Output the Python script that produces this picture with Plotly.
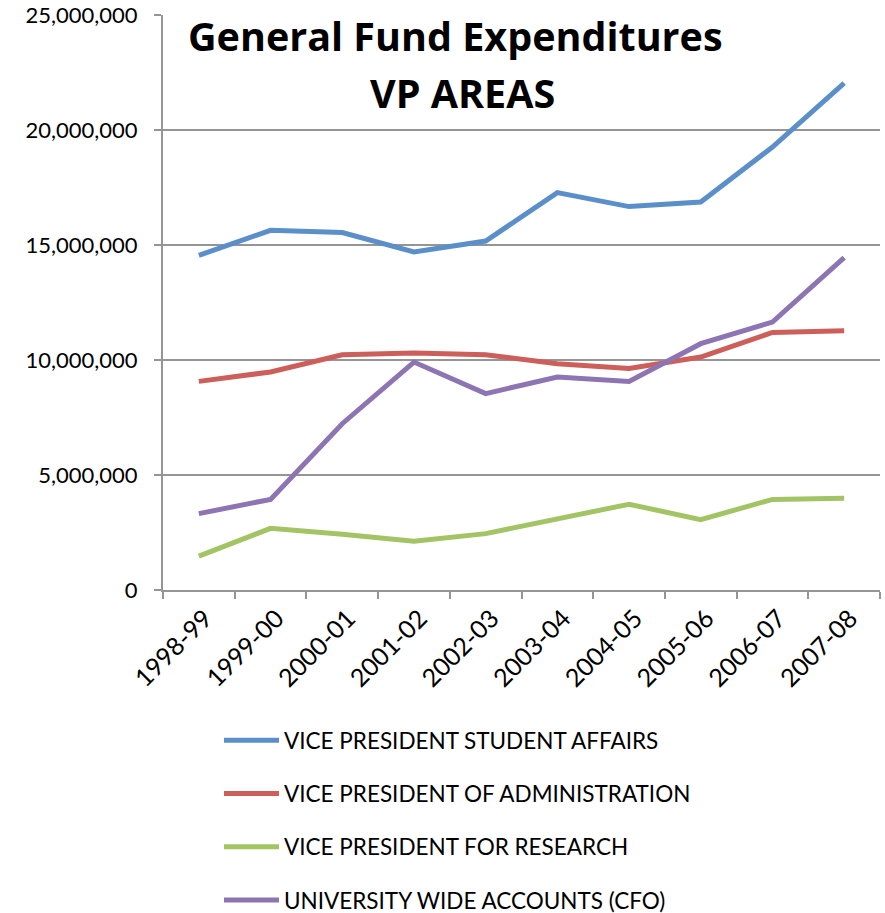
import plotly.graph_objects as go

years = ["1998-99", "1999-00", "2000-01", "2001-02", "2002-03",
         "2003-04", "2004-05", "2005-06", "2006-07", "2007-08"]
student_affairs = [14550000, 15640000, 15540000, 14700000, 15170000,
                   17280000, 16670000, 16870000, 19260000, 22040000]
administration = [9070000, 9480000, 10230000, 10300000, 10230000,
                  9840000, 9630000, 10130000, 11200000, 11270000]
research = [1470000, 2680000, 2420000, 2120000, 2450000,
            3100000, 3730000, 3060000, 3940000, 3990000]
university_wide = [3320000, 3940000, 7230000, 9910000, 8540000,
                   9260000, 9070000, 10710000, 11650000, 14450000]

series_names = ["VICE PRESIDENT STUDENT AFFAIRS",
                "VICE PRESIDENT OF ADMINISTRATION",
                "VICE PRESIDENT FOR RESEARCH",
                "UNIVERSITY WIDE ACCOUNTS (CFO)"]
series_values = [student_affairs, administration, research, university_wide]
series_colors = ["#5B8FC9", "#CC5F5A", "#A3C465", "#8D74B2"]

FONT = "Lato"
GRID = "#959595"

fig = go.Figure()
for i, (name, vals, col) in enumerate(zip(series_names, series_values, series_colors)):
    fig.add_trace(go.Scatter(
        x=years, y=vals, name=name, mode="lines",
        line=dict(color=col, width=5),
        legendgroup=f"g{i}",
    ))

W, H = 885, 913
L, R, T, B = 163, 5, 15, 323
pw, ph = W - L - R, H - T - B

def px_x(x):
    return (x - L) / pw

def px_y(y):
    return 1 - (y - T) / ph

fig.update_layout(
    width=W, height=H,
    margin=dict(l=L, r=R, t=T, b=B, autoexpand=False),
    paper_bgcolor="white", plot_bgcolor="white",
    font=dict(family=FONT, color="black", size=20),
    showlegend=True,
    legend=dict(
        orientation="v",
        x=px_x(219), xanchor="left",
        y=px_y(719), yanchor="top",
        font=dict(family=FONT, size=22.5, color="black"),
        itemwidth=55,
        tracegroupgap=21,
        traceorder="grouped",
        bgcolor="rgba(0,0,0,0)",
    ),
    xaxis=dict(
        type="category",
        range=[-0.5, 9.5],
        showgrid=False,
        showline=True, linecolor=GRID, linewidth=2,
        ticks="outside", ticklen=7, tickcolor=GRID, tickwidth=2,
        tickson="boundaries",
        tickangle=-45,
        tickfont=dict(family=FONT, size=25, color="black"),
        ticklabelstandoff=2,
        ticklabelshift=6,
        zeroline=False,
        automargin=False,
    ),
    yaxis=dict(
        range=[0, 25000000],
        dtick=5000000,
        tickformat=",",
        showgrid=True, gridcolor=GRID, gridwidth=2,
        showline=True, linecolor=GRID, linewidth=2,
        ticks="outside", ticklen=7, tickcolor=GRID, tickwidth=2,
        tickfont=dict(family=FONT, size=22, color="black"),
        zeroline=False,
        ticklabelstandoff=12,
        automargin=False,
    ),
    annotations=[
        dict(text="<b>General Fund Expenditures</b>", xref="paper", yref="paper",
             x=px_x(455), y=px_y(36), xanchor="center", yanchor="middle",
             showarrow=False, font=dict(family="Open Sans", size=39.5, color="black")),
        dict(text="<b>VP AREAS</b>", xref="paper", yref="paper",
             x=px_x(462), y=px_y(93), xanchor="center", yanchor="middle",
             showarrow=False, font=dict(family="Open Sans", size=39.5, color="black")),
    ],
)

fig.write_html("out.html", config={"displayModeBar": False},
               post_script="document.body.style.margin='0';document.body.style.padding='0';")
